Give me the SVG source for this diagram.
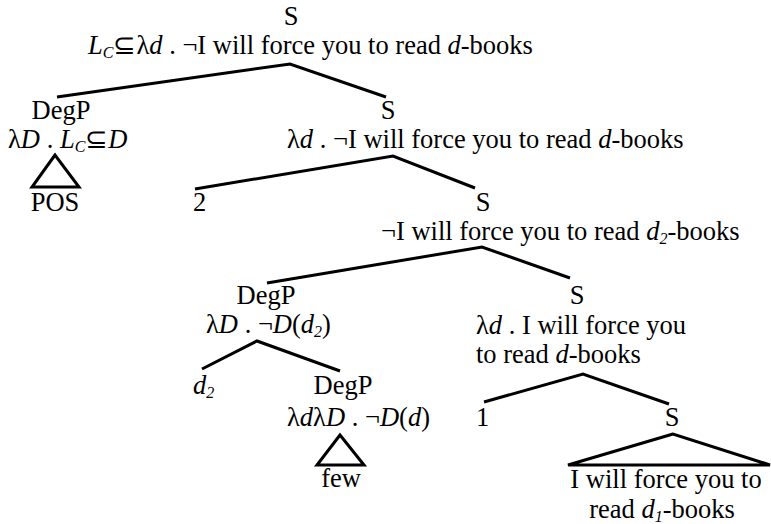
<svg xmlns="http://www.w3.org/2000/svg" width="771" height="524" viewBox="0 0 771 524">
<style>
text{font-family:"Liberation Serif","Times New Roman",serif;font-size:26.5px;fill:#000}
.i{font-style:italic}
.sub{font-size:16px;font-style:italic}
.c{text-anchor:middle}
.e{stroke:#000;stroke-width:3;fill:none;stroke-linecap:butt}
</style>
<rect width="771" height="524" fill="#fff"/>
<g id="connectors">
<path class="e" d="M57,97 L290,64 L386,97"/>
<path class="e" d="M195,189 L393,156 L475,188"/>
<path class="e" d="M267,283 L482,247 L570,278"/>
<path class="e" d="M202,369 L257,341 L340,371"/>
<path class="e" d="M484,402 L583,374 L669,404"/>
<path class="e" d="M55,155 L32,187 L79,187 Z"/>
<path class="e" d="M340,435 L317,465 L364,465 Z"/>
<path class="e" d="M673,434 L568,465 L770,465 Z"/>
</g>
<g id="n-root">
<text class="c" x="291" y="25">S</text>
<text x="88" y="54"><tspan class="i">L</tspan><tspan class="sub" dy="4">C</tspan><tspan dy="-4">⊆λ</tspan><tspan class="i">d</tspan> . ¬I will force you to read <tspan class="i">d</tspan>-books</text>
</g>
<g id="n-degp1">
<text class="c" x="61" y="119">DegP</text>
<text x="8" y="148">λ<tspan class="i">D</tspan> . <tspan class="i">L</tspan><tspan class="sub" dy="4">C</tspan><tspan dy="-4">⊆</tspan><tspan class="i">D</tspan></text>
</g>
<g id="n-pos"><text class="c" x="55" y="211">POS</text></g>
<g id="n-s1">
<text class="c" x="388" y="119">S</text>
<text x="287" y="148">λ<tspan class="i">d</tspan> . ¬I will force you to read <tspan class="i">d</tspan>-books</text>
</g>
<g id="n-2"><text x="193" y="211">2</text></g>
<g id="n-s2">
<text class="c" x="483" y="211">S</text>
<text x="381" y="240">¬I will force you to read <tspan class="i">d</tspan><tspan class="sub" dy="4">2</tspan><tspan dy="-4">-books</tspan></text>
</g>
<g id="n-degp2">
<text class="c" x="266" y="304">DegP</text>
<text x="206" y="333">λ<tspan class="i">D</tspan> . ¬<tspan class="i">D</tspan>(<tspan class="i">d</tspan><tspan class="sub" dy="4">2</tspan><tspan dy="-4">)</tspan></text>
</g>
<g id="n-d2"><text x="193" y="394"><tspan class="i">d</tspan><tspan class="sub" dy="4">2</tspan></text></g>
<g id="n-degp3">
<text class="c" x="343" y="394">DegP</text>
<text x="287" y="426">λ<tspan class="i">d</tspan>λ<tspan class="i">D</tspan> . ¬<tspan class="i">D</tspan>(<tspan class="i">d</tspan>)</text>
</g>
<g id="n-few"><text class="c" x="341" y="487">few</text></g>
<g id="n-s3">
<text class="c" x="577" y="304">S</text>
<text x="476" y="334">λ<tspan class="i">d</tspan> . I will force you</text>
<text x="476" y="363">to read <tspan class="i">d</tspan>-books</text>
</g>
<g id="n-1"><text x="476" y="426">1</text></g>
<g id="n-s4">
<text class="c" x="666" y="488">I will force you to</text>
<text class="c" x="662" y="518">read <tspan class="i">d</tspan><tspan class="sub" dy="4">1</tspan><tspan dy="-4">-books</tspan></text>
<text class="c" x="672" y="426">S</text>
</g>
</svg>
